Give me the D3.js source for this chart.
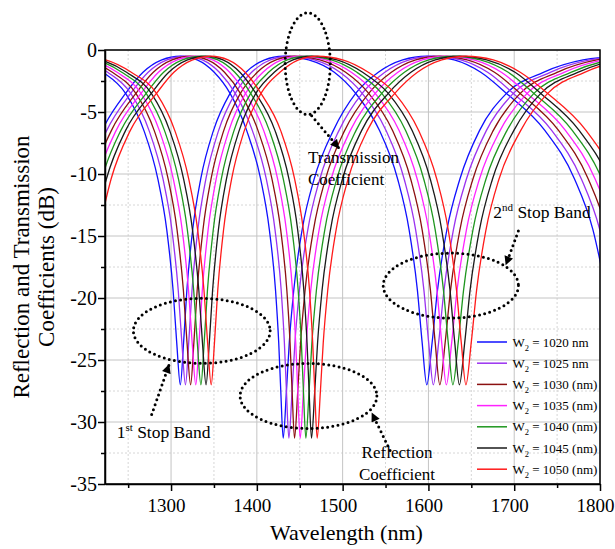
<!DOCTYPE html>
<html>
<head>
<meta charset="utf-8">
<script src="https://cdn.jsdelivr.net/npm/d3@7"></script>
<style>
  body { margin: 0; background: #fff; }
  svg text { font-family: "Liberation Serif", "Times New Roman", serif; fill: #000; }
</style>
</head>
<body>
<svg id="chart" width="615" height="549"></svg>
<script>
// ----- data -----
const widths = [1020, 1025, 1030, 1035, 1040, 1045, 1050];
const legendLabels = [" = 1020 nm", " = 1025 nm", " = 1030 (nm)", " = 1035 (nm)", " = 1040 (nm)", " = 1045 (nm)", " = 1050 (nm)"];
const colors = ["#1010ff", "#9a32f0", "#8b1010", "#ff22ff", "#1e961e", "#1a1a1a", "#ff1a1a"];

// dB level at each read point (transmission curves)
const tLevels = [-0.5, -0.8, -1.8, -3.5, -6.5, -10.4, -14.5, -19.4, -23.6, -27,
  -23.6, -19.4, -14.5, -10.4, -6.5, -3.5, -1.8, -0.8, -0.5,
  -0.8, -1.8, -3.5, -6.5, -10.4, -14.5, -19.4, -23.6, -27,
  -23.6, -19.4, -14.5, -10.4, -6.5, -3.5, -1.8, -0.8, -0.5];

// wavelength (nm) where each transmission curve passes those levels
const transW = [
  [1161, 1190.7, 1220.6, 1247, 1268.4, 1284.6, 1295, 1302.4, 1306.6, 1310.8, 1314.6, 1318.4, 1325.2, 1334.6, 1349.4, 1368.8, 1387.3, 1409.1, 1430.7, 1460.4, 1490.3, 1515.2, 1543, 1564.1, 1577.5, 1587.2, 1592.7, 1598.1, 1604.3, 1610.5, 1621.5, 1636.7, 1659.5, 1691, 1734, 1780.2, 1826],
  [1166.5, 1196.2, 1226.1, 1253, 1274.4, 1290.6, 1301, 1308.4, 1312.6, 1316.8, 1320.6, 1324.4, 1331.2, 1340.6, 1355.4, 1374.8, 1393.9, 1415.7, 1437.3, 1467, 1496.9, 1522.8, 1550.6, 1571.7, 1585.1, 1594.8, 1600.3, 1605.7, 1611.9, 1618.1, 1629.1, 1644.3, 1667.5, 1699, 1742, 1788.2, 1834],
  [1172, 1201.7, 1231.6, 1259, 1280.4, 1296.6, 1307, 1314.4, 1318.6, 1322.8, 1326.6, 1330.4, 1337.2, 1346.6, 1361.4, 1380.8, 1400.5, 1422.3, 1443.9, 1473.6, 1503.5, 1530.4, 1558.2, 1579.3, 1592.7, 1602.4, 1607.9, 1613.3, 1619.5, 1625.7, 1636.7, 1651.9, 1675.5, 1707, 1750, 1796.2, 1842],
  [1177.5, 1207.2, 1237.1, 1265, 1286.4, 1302.6, 1313, 1320.4, 1324.6, 1328.8, 1332.6, 1336.4, 1343.2, 1352.6, 1367.4, 1386.8, 1407.1, 1428.9, 1450.5, 1480.2, 1510.1, 1538, 1565.8, 1586.9, 1600.3, 1610, 1615.5, 1620.9, 1627.1, 1633.3, 1644.3, 1659.5, 1683.5, 1715, 1758, 1804.2, 1850],
  [1183, 1212.7, 1242.6, 1271, 1292.4, 1308.6, 1319, 1326.4, 1330.6, 1334.8, 1338.6, 1342.4, 1349.2, 1358.6, 1373.4, 1392.8, 1413.7, 1435.5, 1457.1, 1486.8, 1516.7, 1545.6, 1573.4, 1594.5, 1607.9, 1617.6, 1623.1, 1628.5, 1634.7, 1640.9, 1651.9, 1667.1, 1691.5, 1723, 1766, 1812.2, 1858],
  [1188.5, 1218.2, 1248.1, 1277, 1298.4, 1314.6, 1325, 1332.4, 1336.6, 1340.8, 1344.6, 1348.4, 1355.2, 1364.6, 1379.4, 1398.8, 1420.3, 1442.1, 1463.7, 1493.4, 1523.3, 1553.2, 1581, 1602.1, 1615.5, 1625.2, 1630.7, 1636.1, 1642.3, 1648.5, 1659.5, 1674.7, 1699.5, 1731, 1774, 1820.2, 1866],
  [1194, 1223.7, 1253.6, 1283, 1304.4, 1320.6, 1331, 1338.4, 1342.6, 1346.8, 1350.6, 1354.4, 1361.2, 1370.6, 1385.4, 1404.8, 1426.9, 1448.7, 1470.3, 1500, 1529.9, 1560.8, 1588.6, 1609.7, 1623.1, 1632.8, 1638.3, 1643.7, 1649.9, 1656.1, 1667.1, 1682.3, 1707.5, 1739, 1782, 1828.2, 1874]
];

// dB level at each read point (reflection curves)
const rLevels = [-14.5, -10.4, -6.5, -3.5, -1.8, -0.8, -0.5,
  -0.8, -1.8, -3.5, -6.5, -10.4, -14.5, -19.4, -23.6, -27.5, -31.3,
  -27.5, -23.6, -19.4, -14.5, -10.4, -6.5, -3.5, -1.8, -0.8, -0.5,
  -0.8, -1.8, -3.5, -6.5, -10.4, -14.5, -19.4];

const reflW = [
  [1183.1, 1197.1, 1219.4, 1247, 1267.3, 1289.2, 1310.8, 1330.5, 1350.3, 1368.8, 1388.2, 1404.4, 1414.6, 1421.8, 1425.5, 1427.9, 1430.7, 1434.5, 1437.8, 1443, 1452.8, 1466.8, 1489.1, 1515.2, 1541.6, 1570, 1598.1, 1630, 1661, 1691, 1735.9, 1770.3, 1791.8, 1807.1],
  [1188.6, 1202.6, 1224.9, 1253, 1273.3, 1295.2, 1316.8, 1336.5, 1356.3, 1374.8, 1394.8, 1411, 1421.2, 1428.4, 1432.1, 1434.5, 1437.3, 1441.1, 1444.4, 1449.6, 1459.4, 1473.4, 1495.7, 1522.8, 1549.2, 1577.6, 1605.7, 1637.6, 1669, 1699, 1743.9, 1778.3, 1799.8, 1815.1],
  [1194.1, 1208.1, 1230.4, 1259, 1279.3, 1301.2, 1322.8, 1342.5, 1362.3, 1380.8, 1401.4, 1417.6, 1427.8, 1435, 1438.7, 1441.1, 1443.9, 1447.7, 1451, 1456.2, 1466, 1480, 1502.3, 1530.4, 1556.8, 1585.2, 1613.3, 1645.2, 1677, 1707, 1751.9, 1786.3, 1807.8, 1823.1],
  [1199.6, 1213.6, 1235.9, 1265, 1285.3, 1307.2, 1328.8, 1348.5, 1368.3, 1386.8, 1408, 1424.2, 1434.4, 1441.6, 1445.3, 1447.7, 1450.5, 1454.3, 1457.6, 1462.8, 1472.6, 1486.6, 1508.9, 1538, 1564.4, 1592.8, 1620.9, 1652.8, 1685, 1715, 1759.9, 1794.3, 1815.8, 1831.1],
  [1205.1, 1219.1, 1241.4, 1271, 1291.3, 1313.2, 1334.8, 1354.5, 1374.3, 1392.8, 1414.6, 1430.8, 1441, 1448.2, 1451.9, 1454.3, 1457.1, 1460.9, 1464.2, 1469.4, 1479.2, 1493.2, 1515.5, 1545.6, 1572, 1600.4, 1628.5, 1660.4, 1693, 1723, 1767.9, 1802.3, 1823.8, 1839.1],
  [1210.6, 1224.6, 1246.9, 1277, 1297.3, 1319.2, 1340.8, 1360.5, 1380.3, 1398.8, 1421.2, 1437.4, 1447.6, 1454.8, 1458.5, 1460.9, 1463.7, 1467.5, 1470.8, 1476, 1485.8, 1499.8, 1522.1, 1553.2, 1579.6, 1608, 1636.1, 1668, 1701, 1731, 1775.9, 1810.3, 1831.8, 1847.1],
  [1216.1, 1230.1, 1252.4, 1283, 1303.3, 1325.2, 1346.8, 1366.5, 1386.3, 1404.8, 1427.8, 1444, 1454.2, 1461.4, 1465.1, 1467.5, 1470.3, 1474.1, 1477.4, 1482.6, 1492.4, 1506.4, 1528.7, 1560.8, 1587.2, 1615.6, 1643.7, 1675.6, 1707, 1739, 1783.9, 1818.3, 1839.8, 1855.1]
];

const xMajor = [1300, 1400, 1500, 1600, 1700, 1800];
const xMinor = [1250, 1350, 1450, 1550, 1650, 1750];
const yMajor = [-35, -30, -25, -20, -15, -10, -5, 0];
const yMinor = [-32.5, -27.5, -22.5, -17.5, -12.5, -7.5, -2.5];

// annotation ellipses (centre in nm / dB, radii in nm / dB)
const ellipses = [
  { cx: 1459.3, cy: -1.1, rx: 26.3, ry: 4.1 },
  { cx: 1335.8, cy: -22.65, rx: 79.7, ry: 2.62 },
  { cx: 1460.2, cy: -27.9, rx: 79.7, ry: 2.62 },
  { cx: 1626.1, cy: -19.0, rx: 78.8, ry: 2.62 }
];
const arrows = [
  { x1: 1463.9, y1: -5.3, x2: 1495.5, y2: -7.9 },
  { x1: 1704.8, y1: -14.6, x2: 1690.4, y2: -17.3 },
  { x1: 1277.4, y1: -29.4, x2: 1297.6, y2: -25.4 },
  { x1: 1555.3, y1: -32.3, x2: 1534.3, y2: -29.3 }
];

// ----- drawing -----
const FONT = '"Liberation Serif", "Times New Roman", serif';
const svg = d3.select("svg#chart");
const margins = { top: 50, right: 15, bottom: 65, left: 105 };
const width = +svg.attr("width");
const height = +svg.attr("height");

const x = d3.scaleLinear().domain([1223, 1800]).range([margins.left, width - margins.right]);
const y = d3.scaleLinear().domain([-35, 0]).range([height - margins.bottom, margins.top]);

const defs = svg.append("defs");
defs.append("clipPath").attr("id", "plotclip")
  .append("rect")
  .attr("x", x.range()[0]).attr("y", y.range()[1])
  .attr("width", x.range()[1] - x.range()[0])
  .attr("height", y.range()[0] - y.range()[1]);

defs.append("marker")
  .attr("id", "head")
  .attr("viewBox", "0 0 10 10")
  .attr("refX", 9).attr("refY", 5)
  .attr("markerWidth", 10).attr("markerHeight", 9)
  .attr("markerUnits", "userSpaceOnUse")
  .attr("orient", "auto")
  .append("path").attr("d", "M0,0L10,5L0,10z").attr("fill", "#000");

// gridlines
const grid = svg.append("g");
grid.selectAll("line.xminor").data(xMinor).join("line")
  .attr("x1", d => x(d)).attr("x2", d => x(d))
  .attr("y1", y(0)).attr("y2", y(-35))
  .attr("stroke", "#d6d6d6").attr("stroke-dasharray", "2,2");
grid.selectAll("line.yminor").data(yMinor).join("line")
  .attr("y1", d => y(d)).attr("y2", d => y(d))
  .attr("x1", x(1223)).attr("x2", x(1800))
  .attr("stroke", "#d6d6d6").attr("stroke-dasharray", "2,2");
grid.selectAll("line.xmajor").data(xMajor).join("line")
  .attr("x1", d => x(d)).attr("x2", d => x(d))
  .attr("y1", y(0)).attr("y2", y(-35))
  .attr("stroke", "#c4c4c4");
grid.selectAll("line.ymajor").data(yMajor).join("line")
  .attr("y1", d => y(d)).attr("y2", d => y(d))
  .attr("x1", x(1223)).attr("x2", x(1800))
  .attr("stroke", "#c4c4c4");

// curves
const line = d3.line()
  .x(d => x(d[0]))
  .y(d => y(d[1]))
  .curve(d3.curveMonotoneX);

const curves = svg.append("g").attr("clip-path", "url(#plotclip)");
widths.forEach((w, i) => {
  curves.append("path")
    .datum(d3.zip(reflW[i], rLevels))
    .attr("d", line)
    .attr("fill", "none")
    .attr("stroke", colors[i])
    .attr("stroke-width", 1.3);
  curves.append("path")
    .datum(d3.zip(transW[i], tLevels))
    .attr("d", line)
    .attr("fill", "none")
    .attr("stroke", colors[i])
    .attr("stroke-width", 1.3);
});

// axes
const fmt = d => String(d);
const xAxis = svg.append("g")
  .attr("transform", `translate(0,${y(-35)})`)
  .call(d3.axisBottom(x).tickValues(xMajor).tickSize(7).tickSizeOuter(0).tickFormat(fmt));
svg.append("g")
  .attr("transform", `translate(0,${y(-35)})`)
  .call(d3.axisBottom(x).tickValues(xMinor).tickSize(4).tickFormat(""))
  .call(g => g.select(".domain").remove());
const yAxis = svg.append("g")
  .attr("transform", `translate(${x(1223)},0)`)
  .call(d3.axisLeft(y).tickValues(yMajor).tickSize(7).tickSizeOuter(0).tickFormat(fmt));
svg.append("g")
  .attr("transform", `translate(${x(1223)},0)`)
  .call(d3.axisLeft(y).tickValues(yMinor).tickSize(4).tickFormat(""))
  .call(g => g.select(".domain").remove());

svg.selectAll(".tick line").attr("stroke", "#000").attr("stroke-width", 1.5);
svg.selectAll(".domain").attr("stroke", "#000").attr("stroke-width", 1.5);
xAxis.selectAll("text").attr("y", 28).attr("dy", 0).attr("dx", -5)
  .style("font-size", "19px");
yAxis.selectAll("text").attr("x", -8).attr("dy", "0.34em")
  .style("font-size", "20px");

// frame
svg.append("rect")
  .attr("x", x(1223)).attr("y", y(0))
  .attr("width", x(1800) - x(1223)).attr("height", y(-35) - y(0))
  .attr("fill", "none").attr("stroke", "#000").attr("stroke-width", 1.5);

// axis titles
svg.append("text")
  .attr("x", (x(1223) + x(1800)) / 2 - 6).attr("y", 540)
  .attr("text-anchor", "middle")
  .style("font-size", "22px")
  .text("Wavelength (nm)");
const yTitle = ["Reflection and Transmission", "Coefficients (dB)"];
yTitle.forEach((t, i) => {
  svg.append("text")
    .attr("transform", `translate(${28.5 + i * 25},${(y(0) + y(-35)) / 2}) rotate(-90)`)
    .attr("text-anchor", "middle")
    .style("font-size", "23px")
    .text(t);
});

// legend
const legend = svg.append("g");
widths.forEach((w, i) => {
  const ly = 342 + i * 21.2;
  legend.append("line")
    .attr("x1", 477).attr("x2", 507).attr("y1", ly).attr("y2", ly)
    .attr("stroke", colors[i]).attr("stroke-width", 1.5);
  const t = legend.append("text")
    .attr("x", 512.5).attr("y", ly + 4.5)
    .style("font-size", "13px");
  t.append("tspan").text("W");
  t.append("tspan").attr("dy", 4).style("font-size", "8.5px").text("2");
  t.append("tspan").attr("dy", -4).text(legendLabels[i]);
});

// annotations
const ann = svg.append("g");
ann.selectAll("ellipse").data(ellipses).join("ellipse")
  .attr("cx", d => x(d.cx)).attr("cy", d => y(d.cy))
  .attr("rx", d => x(d.cx + d.rx) - x(d.cx))
  .attr("ry", d => y(d.cy - d.ry) - y(d.cy))
  .attr("fill", "none").attr("stroke", "#000")
  .attr("stroke-width", 3).attr("stroke-linecap", "round")
  .attr("stroke-dasharray", "0 5.2");
ann.selectAll("line").data(arrows).join("line")
  .attr("x1", d => x(d.x1)).attr("y1", d => y(d.y1))
  .attr("x2", d => x(d.x2)).attr("y2", d => y(d.y2))
  .attr("stroke", "#000").attr("stroke-width", 3)
  .attr("stroke-linecap", "round").attr("stroke-dasharray", "0 5.2")
  .attr("marker-end", "url(#head)");

function label(xv, yv, lines, anchor) {
  const t = ann.append("text")
    .attr("x", x(xv)).attr("y", y(yv))
    .attr("text-anchor", anchor)
    .style("font-size", "17px");
  lines.forEach((ln, i) => {
    t.append("tspan").attr("x", x(xv)).attr("dy", i === 0 ? 0 : 22).text(ln);
  });
  return t;
}
label(1459.6, -9.1, ["Transmission", "Coefficient"], "start");
label(1563.4, -32.9, ["Reflection", "Coefficient"], "middle");

function ordinalLabel(xv, yv, num, suf, rest) {
  const t = ann.append("text")
    .attr("x", x(xv)).attr("y", y(yv))
    .style("font-size", "17.5px");
  t.append("tspan").text(num);
  t.append("tspan").attr("dy", -7).style("font-size", "11px").text(suf);
  t.append("tspan").attr("dy", 7).text(rest);
}
ordinalLabel(1675.6, -13.57, "2", "nd", " Stop Band");
ordinalLabel(1236.6, -31.3, "1", "st", " Stop Band");

// make sure every label uses the serif face
svg.selectAll("text").style("font-family", FONT);
</script>
</body>
</html>
